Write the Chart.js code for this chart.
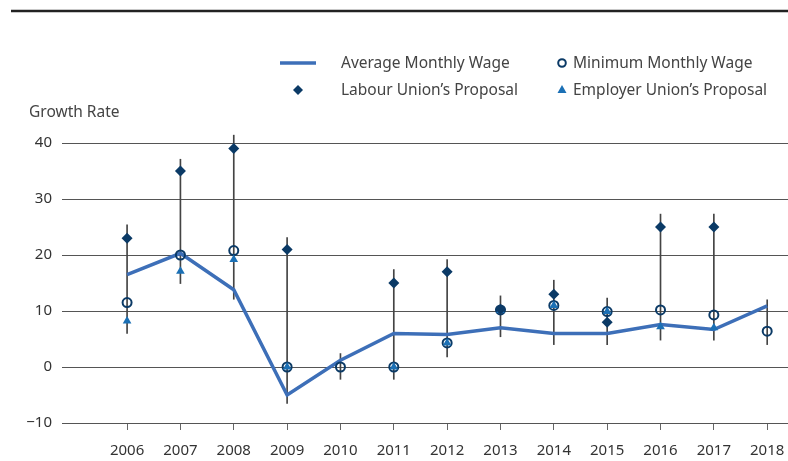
<!DOCTYPE html>
<html>
<head>
<meta charset="utf-8">
<script src="https://cdn.jsdelivr.net/npm/chart.js@4"></script>
<style>
  html, body { margin: 0; padding: 0; background: #fff; }
  #chart { display: block; }
</style>
</head>
<body>
<canvas id="chart" width="788" height="461"></canvas>
<script>
// data
const years = [2006, 2007, 2008, 2009, 2010, 2011, 2012, 2013, 2014, 2015, 2016, 2017, 2018];
const avgWage = [16.5, 20.3, 13.8, -5.0, 1.2, 6.0, 5.8, 7.0, 6.0, 6.0, 7.6, 6.7, 10.9];
const minWage = [11.5, 20.0, 20.8, 0, 0, 0, 4.3, 10.2, 11.0, 9.9, 10.2, 9.3, 6.4];
const labourProposal = [23, 35, 39, 21, null, 15, 17, 10.3, 13, 8, 25, 25, null];
const employerProposal = [8.2, 17.1, 19.2, 0, null, 0, 4.3, 10.1, 11.0, 9.9, 7.2, 7.0, null];
const rangeLow = [6.0, 14.9, 12.1, -6.5, -2.2, -2.2, 1.8, 5.4, 4.0, 4.0, 4.8, 4.8, 4.0];
const rangeHigh = [25.4, 37.1, 41.4, 23.1, 2.4, 17.4, 19.2, 12.7, 15.5, 12.3, 27.3, 27.3, 12.0];
const yTicks = [-10, 0, 10, 20, 30, 40];

const FONT = "'Noto Sans', sans-serif";
const LINE_COL = "#3d6fb8";
const NAVY = "#0b3a66";
const TRI_COL = "#1b70b5";
const TEXT_COL = "#333";

function pts(arr){
    return years.map((y, i) => ({x: y, y: arr[i]}));
}

// legend, axis title and title rule drawn by hand
const decor = {
    id: "decor",
    afterDraw(chart){
        const c = chart.ctx;
        c.save();
        // cut title rule
        c.strokeStyle = "#222";
        c.lineWidth = 2.5;
        c.beginPath(); c.moveTo(11, 11); c.lineTo(788, 11); c.stroke();

        c.font = "15.5px " + FONT;
        c.fillStyle = "#444";
        c.textBaseline = "middle";
        c.textAlign = "left";
        c.fillText("Growth Rate", 29, 113);

        // legend
        c.strokeStyle = LINE_COL; c.lineWidth = 3.5;
        c.beginPath(); c.moveTo(280, 63); c.lineTo(316, 63); c.stroke();
        c.fillStyle = "#444";
        c.fillText("Average Monthly Wage", 341, 64);
        c.fillText("Minimum Monthly Wage", 573, 64);
        c.fillText("Labour Union\u2019s Proposal", 341, 91);
        c.fillText("Employer Union\u2019s Proposal", 573, 91);

        c.beginPath(); c.arc(562, 63, 3.8, 0, Math.PI*2);
        c.fillStyle = "#fff"; c.fill();
        c.strokeStyle = NAVY; c.lineWidth = 2; c.stroke();

        c.fillStyle = NAVY;
        c.beginPath(); c.moveTo(298, 85); c.lineTo(303, 90); c.lineTo(298, 95); c.lineTo(293, 90); c.closePath(); c.fill();

        c.fillStyle = TRI_COL;
        c.beginPath(); c.moveTo(562, 85); c.lineTo(566.5, 93); c.lineTo(557.5, 93); c.closePath(); c.fill();
        c.restore();
    }
};

new Chart(document.getElementById("chart"), {
    data: {
        datasets: [
            {type: "scatter", label: "Labour Union\u2019s Proposal", data: pts(labourProposal),
             pointStyle: "rectRot", pointRadius: 5.5, backgroundColor: NAVY, borderColor: NAVY, borderWidth: 0, order: 0},
            {type: "scatter", label: "Employer Union\u2019s Proposal", data: pts(employerProposal),
             pointStyle: "triangle", pointRadius: 5, backgroundColor: TRI_COL, borderColor: TRI_COL, borderWidth: 0, order: 1},
            {type: "scatter", label: "Minimum Monthly Wage", data: pts(minWage),
             pointStyle: "circle", pointRadius: 4.5, backgroundColor: "rgba(255,255,255,0)", borderColor: NAVY, borderWidth: 2, order: 2},
            {type: "line", label: "Average Monthly Wage", data: pts(avgWage),
             borderColor: LINE_COL, borderWidth: 3.5, pointRadius: 0, tension: 0, fill: false, order: 3},
            {type: "bar", label: "range", data: years.map((y, i) => ({x: y, y: [rangeLow[i], rangeHigh[i]]})),
             backgroundColor: "#444", borderWidth: 0, barThickness: 1, order: 4}
        ]
    },
    options: {
        responsive: false,
        animation: false,
        layout: {autoPadding: false, padding: {top: 115, left: 0, right: 0, bottom: 0}},
        plugins: {legend: {display: false}, tooltip: {enabled: false}},
        scales: {
            x: {
                type: "linear", min: 2004.78, max: 2018.39, offset: false,
                afterBuildTicks: s => { s.ticks = years.map(v => ({value: v})); },
                afterFit: s => { s.height = 38; s.paddingRight = 0; s.paddingLeft = 0; },
                grid: {offset: false, drawOnChartArea: false, drawTicks: true, tickLength: 7, color: "#666", lineWidth: 1},
                border: {display: false},
                ticks: {callback: v => String(v), font: {family: FONT, size: 15}, color: TEXT_COL, padding: 12, maxRotation: 0}
            },
            y: {
                min: -10, max: 45,
                afterBuildTicks: s => { s.ticks = yTicks.map(v => ({value: v})); },
                afterFit: s => { s.width = 62; },
                grid: {drawTicks: false, color: "#555", lineWidth: 1},
                border: {display: false},
                ticks: {callback: v => v < 0 ? "\u2212" + Math.abs(v) : String(v), font: {family: FONT, size: 15}, color: TEXT_COL, padding: 10}
            }
        }
    },
    plugins: [decor]
});
</script>
</body>
</html>
